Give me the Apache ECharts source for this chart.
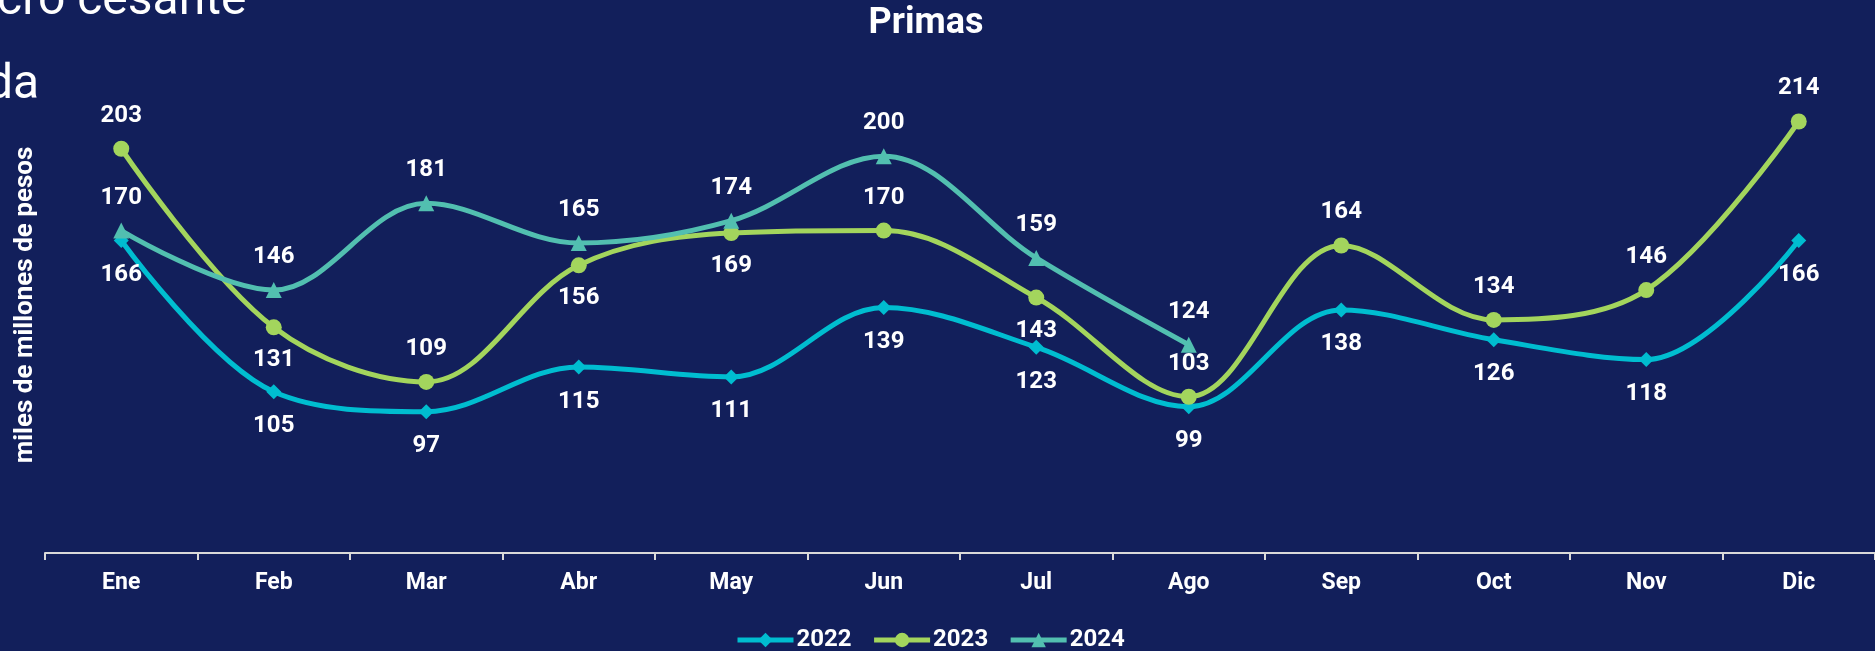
<!DOCTYPE html>
<html>
<head>
<meta charset="utf-8">
<script src="https://cdn.jsdelivr.net/npm/echarts@6/dist/echarts.min.js"></script>
<style>
  html, body { margin: 0; padding: 0; background: #121f5b; }
  #chart { width: 1875px; height: 651px; }
</style>
</head>
<body>
<div id="chart"></div>
<script>
// Monthly premiums, thousands of millions of pesos
const months = ['Ene', 'Feb', 'Mar', 'Abr', 'May', 'Jun', 'Jul', 'Ago', 'Sep', 'Oct', 'Nov', 'Dic'];
const primas2022 = [166, 105, 97, 115, 111, 139, 123, 99, 138, 126, 118, 166];
const primas2023 = [203, 131, 109, 156, 169, 170, 143, 103, 164, 134, 146, 214];
const primas2024 = [170, 146, 181, 165, 174, 200, 159, 124];

// months where the 2023 value label sits under its point
const below2023 = ['Feb', 'Abr', 'May', 'Jul'];

const FONT = 'Roboto';
const C2022 = '#00bdd0';
const C2023 = '#a3d55d';
const C2024 = '#52bfb0';

const labelStyle = {
  show: true,
  color: '#ffffff',
  fontFamily: FONT,
  fontWeight: 'bold',
  fontSize: 24
};

const chart = echarts.init(document.getElementById('chart'));

chart.setOption({
  backgroundColor: '#121f5b',
  animation: false,
  title: {
    text: 'Primas',
    left: 926,
    textAlign: 'center',
    top: 6,
    padding: 0,
    textStyle: { color: '#ffffff', fontFamily: FONT, fontWeight: 'bold', fontSize: 36 }
  },
  graphic: [
    {
      type: 'text', left: -3, top: -22,
      style: { text: 'cro cesante', fill: '#ffffff', font: '48px Roboto' }
    },
    {
      type: 'text', left: -14, top: 62,
      style: { text: 'da', fill: '#ffffff', font: '48px Roboto' }
    }
  ],
  legend: {
    left: 730,
    top: 623,
    itemWidth: 56,
    itemHeight: 18,
    itemGap: 20,
    lineStyle: { width: 5 },
    textStyle: { color: '#ffffff', fontFamily: FONT, fontWeight: 'bold', fontSize: 24, padding: [0, 0, 0, -2] },
    data: ['2022', '2023', '2024']
  },
  grid: { left: 45, right: 0, top: 57, bottom: 98 },
  xAxis: {
    type: 'category',
    data: months,
    boundaryGap: true,
    axisLine: { lineStyle: { color: '#d9d9d9', width: 2 } },
    axisTick: { show: true, length: 7, lineStyle: { color: '#d9d9d9', width: 2 } },
    axisLabel: { color: '#ffffff', fontFamily: FONT, fontWeight: 'bold', fontSize: 23, margin: 19 }
  },
  yAxis: {
    type: 'value',
    min: 40,
    max: 240,
    interval: 40,
    axisLine: { show: false },
    axisTick: { show: false },
    axisLabel: { show: false },
    splitLine: { show: false },
    name: 'miles de millones de pesos',
    nameLocation: 'middle',
    nameRotate: 90,
    nameGap: 7,
    nameTextStyle: { color: '#ffffff', fontFamily: FONT, fontWeight: 'bold', fontSize: 26 }
  },
  series: [
    {
      name: '2022',
      type: 'line',
      data: primas2022,
      smooth: 0.35,
      symbol: 'diamond',
      symbolSize: 15,
      lineStyle: { color: C2022, width: 5 },
      itemStyle: { color: C2022 },
      label: Object.assign({}, labelStyle, { position: 'bottom', distance: 15 })
    },
    {
      name: '2023',
      type: 'line',
      data: primas2023.map((v, i) => ({
        value: v,
        label: { position: below2023.includes(months[i]) ? 'bottom' : 'top' }
      })),
      smooth: 0.35,
      symbol: 'circle',
      symbolSize: 16,
      lineStyle: { color: C2023, width: 5 },
      itemStyle: { color: C2023 },
      label: Object.assign({}, labelStyle, { distance: 13 })
    },
    {
      name: '2024',
      type: 'line',
      data: primas2024,
      smooth: 0.35,
      symbol: 'triangle',
      symbolSize: 16,
      lineStyle: { color: C2024, width: 5 },
      itemStyle: { color: C2024 },
      label: Object.assign({}, labelStyle, { position: 'top', distance: 13 })
    }
  ]
});
</script>
</body>
</html>
